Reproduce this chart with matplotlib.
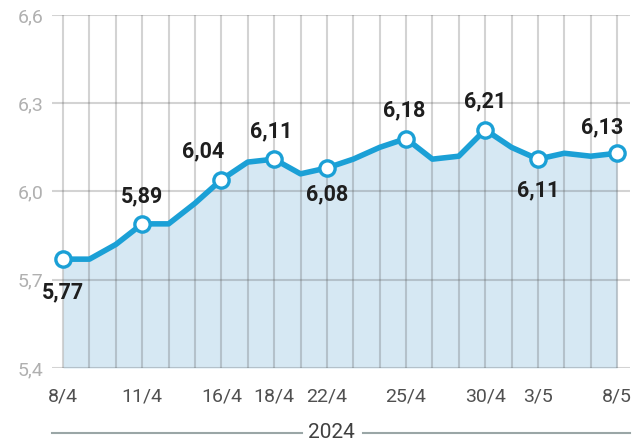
import matplotlib
matplotlib.use("Agg")
import matplotlib.pyplot as plt
from matplotlib.lines import Line2D

values = [5.77, 5.77, 5.82, 5.89, 5.89, 5.96, 6.04, 6.10, 6.11, 6.06, 6.08,
          6.11, 6.15, 6.18, 6.11, 6.12, 6.21, 6.15, 6.11, 6.13, 6.12, 6.13]
tick_idx = [0, 3, 6, 8, 10, 13, 16, 18, 21]
tick_labels = ["8/4", "11/4", "16/4", "18/4", "22/4", "25/4", "30/4", "3/5", "8/5"]
marker_idx = [0, 3, 6, 8, 10, 13, 16, 18, 21]
marker_labels = ["5,77", "5,89", "6,04", "6,11", "6,08", "6,18", "6,21", "6,11", "6,13"]
# label placement: (dx px, dy px)
label_offsets = [(0, -33), (0, 28), (-18, 28), (-3, 28), (0, -26), (-2, 28), (0, 28), (0, -31), (-15, 26)]
yticks = [5.4, 5.7, 6.0, 6.3, 6.6]
ytick_labels = ["5,4", "5,7", "6,0", "6,3", "6,6"]
year = "2024"

plt.rcParams['font.family'] = ['Roboto', 'DejaVu Sans']

fig = plt.figure(figsize=(6.43, 4.44), dpi=100)
ax = fig.add_axes([52/643, 1-368/444, (630-52)/643, (368-15)/444])

x = list(range(len(values)))
line_c = "#1ba0d6"
ax.fill_between(x, values, 5.4, color="#d6e8f3", zorder=1, linewidth=0)
ax.set_xlim(-0.42, 21.49)
ax.set_ylim(5.4, 6.6)

for i in x:
    ax.plot([i, i], [5.4, 6.6], color="#555555", alpha=0.26, lw=1.5, zorder=2)
for yv in yticks:
    ax.axhline(yv, color="#555555", alpha=0.26, lw=1.5, zorder=2)

ax.plot(x, values, color=line_c, lw=4, zorder=3, solid_joinstyle='round')
ax.plot(marker_idx, [values[i] for i in marker_idx], 'o', ms=11, mfc="white",
        mec=line_c, mew=2.4, zorder=4, linestyle='none')

for i, lab, (dx, dy) in zip(marker_idx, marker_labels, label_offsets):
    ax.annotate(lab, (i, values[i]), xytext=(dx*0.72, dy*0.72), textcoords='offset points',
                ha='center', va='center', fontsize=15.5, fontweight='bold', color="#1e1e1e", zorder=5)

for s in ax.spines.values():
    s.set_visible(False)
ax.set_yticks(yticks)
ax.set_yticklabels(ytick_labels)
ax.set_xticks(tick_idx)
ax.set_xticklabels(tick_labels)
ax.tick_params(axis='y', length=0, pad=6, labelsize=14, labelcolor="#b0b0b0")
ax.tick_params(axis='x', length=0, pad=14, labelsize=14, labelcolor="#505050")

fig.text(331/643, 1-432/444, year, ha='center', va='center', fontsize=15, color="#404040")
fig.add_artist(Line2D([52/643, 302/643], [1-433/444]*2, color="#9aa6a6", lw=1.5))
fig.add_artist(Line2D([363/643, 630/643], [1-433/444]*2, color="#9aa6a6", lw=1.5))

fig.savefig("out.png", dpi=100)
